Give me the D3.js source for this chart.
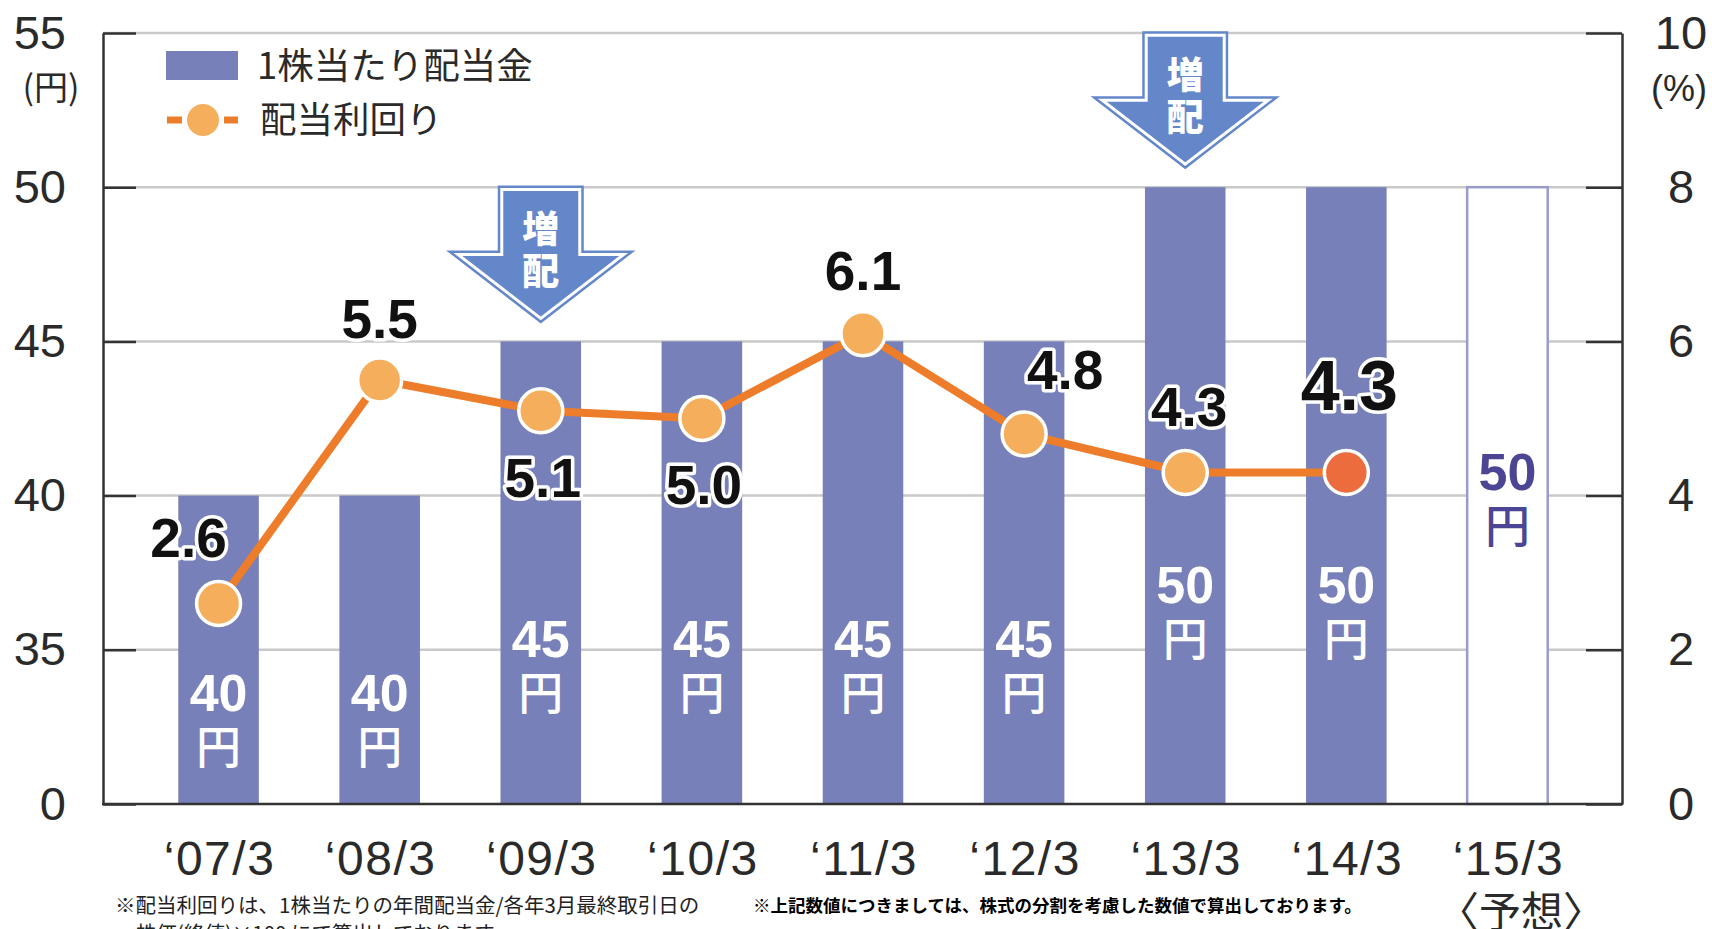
<!DOCTYPE html>
<html>
<head>
<meta charset="utf-8">
<script src="https://cdn.jsdelivr.net/npm/d3@7"></script>
<style>
  body { margin: 0; background: #fff; }
  svg { display: block; }
  text { font-family: "Liberation Sans", Arial, sans-serif; }
  .jp { font-family: "Noto Sans CJK JP", sans-serif; }
</style>
</head>
<body>
<div id="chart"></div>
<script>
// data
var years = ['‘07/3', '‘08/3', '‘09/3', '‘10/3', '‘11/3', '‘12/3', '‘13/3', '‘14/3', '‘15/3'];
var dividend = [40, 40, 45, 45, 45, 45, 50, 50, 50];      // 円
var yieldPct = [2.6, 5.5, 5.1, 5.0, 6.1, 4.8, 4.3, 4.3];  // %
var forecastYear = '‘15/3';
var leftTicks = [0, 35, 40, 45, 50, 55];
var rightTicks = [0, 2, 4, 6, 8, 10];

// label placement around each yield point (dx, dy)
var yieldLabelOffset = [[-30, -66], [0, -62], [2, 66], [2, 66], [0, -63], [41, -65], [4, -66], [3, -88]];

var width = 1712, height = 929;
var plot = {left: 103, right: 1622, top: 33, bottom: 804};
var step = (plot.bottom - plot.top) / 5;

var barColour = '#7780b8',
    lineColour = '#ee7d2b',
    dotColour = '#f5ae5c',
    lastDotColour = '#ec6c3e',
    arrowColour = '#6487ca';

var svg = d3.select('#chart').append('svg')
    .attr('width', width)
    .attr('height', height);

var xScale = d3.scaleBand().domain(years).range([138, 1588]).paddingInner(0.5).paddingOuter(0.25),
    yLeft = d3.scaleLinear().domain([0, 35, 55]).range([plot.bottom, plot.bottom - step, plot.top]),
    yRight = d3.scaleLinear().domain([0, 10]).range([plot.bottom, plot.top]),
    labelY = d3.scaleLinear().domain([40, 50]).range([692, 584]);

var bw = xScale.bandwidth();
function cx(d) { return xScale(d) + bw / 2; }

// gridlines
svg.append('g').selectAll('line')
    .data(leftTicks.slice(1))
  .enter().append('line')
    .attr('x1', plot.left).attr('x2', plot.right)
    .attr('y1', function(d) { return yLeft(d); })
    .attr('y2', function(d) { return yLeft(d); })
    .style('stroke', '#c9c9c9')
    .style('stroke-width', 2.5);

// bars
var rows = years.map(function(y, i) { return {year: y, value: dividend[i], forecast: y === forecastYear}; });

svg.append('g').selectAll('rect')
    .data(rows)
  .enter().append('rect')
    .attr('x', function(d) { return xScale(d.year); })
    .attr('y', function(d) { return yLeft(d.value); })
    .attr('width', bw)
    .attr('height', function(d) { return plot.bottom - yLeft(d.value); })
    .style('fill', function(d) { return d.forecast ? '#fff' : barColour; })
    .style('stroke', function(d) { return d.forecast ? '#989ccb' : 'none'; })
    .style('stroke-width', 2.5);

// axes
var leftAxis = svg.append('g')
    .attr('transform', 'translate(' + plot.left + ',0)')
    .call(d3.axisLeft(yLeft).tickValues(leftTicks).tickSizeInner(-33).tickSizeOuter(0).tickPadding(37));

var rightAxis = svg.append('g')
    .attr('transform', 'translate(' + plot.right + ',0)')
    .call(d3.axisRight(yRight).tickValues(rightTicks).tickSizeInner(-36).tickSizeOuter(0).tickPadding(59));

[leftAxis, rightAxis].forEach(function(ax) {
  ax.selectAll('path, line').style('stroke', '#333').style('stroke-width', 2.5);
  ax.selectAll('text')
      .style('font-size', '47px')
      .style('fill', '#2a2a2a')
      .style('font-family', '"Liberation Sans", Arial, sans-serif');
});
rightAxis.selectAll('text').style('text-anchor', 'middle');

svg.append('line')
    .attr('x1', plot.left - 1).attr('x2', plot.right + 1)
    .attr('y1', plot.bottom).attr('y2', plot.bottom)
    .style('stroke', '#333')
    .style('stroke-width', 2.5);

var xAxis = svg.append('g')
    .attr('transform', 'translate(0,' + plot.bottom + ')')
    .call(d3.axisBottom(xScale).tickSize(0).tickPadding(37));
xAxis.select('.domain').remove();
xAxis.selectAll('text')
    .attr('dx', 1)
    .style('font-size', '48px')
    .style('fill', '#2a2a2a')
    .style('letter-spacing', '1.5px')
    .style('font-family', '"Liberation Sans", Arial, sans-serif');

// unit labels
svg.append('text').attr('class', 'jp')
    .attr('x', 51).attr('y', 88).attr('dy', '0.35em')
    .style('text-anchor', 'middle').style('font-size', '34px').style('fill', '#2a2a2a')
    .text('(円)');
svg.append('text')
    .attr('x', 1679).attr('y', 88).attr('dy', '0.35em')
    .style('text-anchor', 'middle').style('font-size', '36px').style('fill', '#2a2a2a')
    .text('(%)');

// value labels in bars
var barLabels = svg.append('g').selectAll('g')
    .data(rows)
  .enter().append('g')
    .attr('transform', function(d) {
      var y = d.forecast ? 471 : labelY(d.value);
      return 'translate(' + cx(d.year) + ',' + y + ')';
    })
    .style('fill', function(d) { return d.forecast ? '#4b4594' : '#fff'; });

barLabels.append('text')
    .attr('dy', '0.36em')
    .style('text-anchor', 'middle')
    .style('font-size', '52px')
    .style('font-weight', 'bold')
    .text(function(d) { return d.value; });

barLabels.append('text').attr('class', 'jp')
    .attr('y', 56).attr('dy', '0.36em')
    .style('text-anchor', 'middle')
    .style('font-size', '45px')
    .style('font-weight', 500)
    .text('円');

// yield line
var points = yieldPct.map(function(v, i) { return {year: years[i], value: v, i: i}; });
var last = points.length - 1;

svg.append('path')
    .datum(points)
    .attr('d', d3.line().x(function(d) { return cx(d.year); }).y(function(d) { return yRight(d.value); }))
    .style('fill', 'none')
    .style('stroke', lineColour)
    .style('stroke-width', 8);

svg.append('g').selectAll('circle')
    .data(points)
  .enter().append('circle')
    .attr('cx', function(d) { return cx(d.year); })
    .attr('cy', function(d) { return yRight(d.value); })
    .attr('r', 22)
    .style('fill', function(d) { return d.i === last ? lastDotColour : dotColour; })
    .style('stroke', '#fff')
    .style('stroke-width', 3.5);

svg.append('g').selectAll('text')
    .data(points)
  .enter().append('text')
    .attr('x', function(d) { return cx(d.year) + yieldLabelOffset[d.i][0]; })
    .attr('y', function(d) { return yRight(d.value) + yieldLabelOffset[d.i][1]; })
    .attr('dy', '0.36em')
    .style('text-anchor', 'middle')
    .style('font-size', function(d) { return d.i === last ? '70px' : '55px'; })
    .style('font-weight', 'bold')
    .style('fill', '#111')
    .style('stroke', '#fff')
    .style('stroke-width', 7)
    .style('stroke-linejoin', 'round')
    .style('paint-order', 'stroke')
    .text(function(d) { return d.value.toFixed(1); });

// 増配 arrows where the dividend went up
var raises = rows.filter(function(d, i) { return i > 0 && d.value > dividend[i - 1]; });
var arrowShape = [[-39, -131], [39, -131], [39, -66], [83, -66], [0, -2], [-83, -66], [-39, -66]];

var arrows = svg.append('g').selectAll('g')
    .data(raises)
  .enter().append('g')
    .attr('transform', function(d) { return 'translate(' + cx(d.year) + ',' + (yLeft(d.value) - 21) + ')'; });

arrows.append('path')
    .attr('d', d3.line()(arrowShape) + 'Z')
    .style('fill', arrowColour)
    .style('stroke', arrowColour)
    .style('stroke-width', 8)
    .style('stroke-linejoin', 'miter');
arrows.append('path')
    .attr('d', d3.line()(arrowShape) + 'Z')
    .style('fill', 'none')
    .style('stroke', '#fff')
    .style('stroke-width', 3);

arrows.selectAll('text')
    .data(['増', '配'])
  .enter().append('text').attr('class', 'jp')
    .attr('y', function(d, i) { return -91 + i * 42; })
    .attr('dy', '0.36em')
    .style('text-anchor', 'middle')
    .style('font-size', '37px')
    .style('font-weight', 900)
    .style('fill', '#fff')
    .text(function(d) { return d; });

// legend
var legend = svg.append('g');
legend.append('rect')
    .attr('x', 166).attr('y', 51).attr('width', 72).attr('height', 29)
    .style('fill', barColour);
legend.append('text').attr('class', 'jp')
    .attr('x', 257).attr('y', 66).attr('dy', '0.36em')
    .style('font-size', '36.5px').style('fill', '#2a2a2a')
    .text('1株当たり配当金');
legend.selectAll('.dash')
    .data([[167, 182], [224, 238]])
  .enter().append('line')
    .attr('x1', function(d) { return d[0]; }).attr('x2', function(d) { return d[1]; })
    .attr('y1', 120).attr('y2', 120)
    .style('stroke', lineColour).style('stroke-width', 7);
legend.append('circle')
    .attr('cx', 203).attr('cy', 120).attr('r', 16)
    .style('fill', dotColour);
legend.append('text').attr('class', 'jp')
    .attr('x', 260).attr('y', 120).attr('dy', '0.36em')
    .style('font-size', '36.5px').style('fill', '#2a2a2a')
    .text('配当利回り');

// notes
svg.append('text').attr('class', 'jp')
    .attr('x', 1521).attr('y', 912).attr('dy', '0.36em')
    .style('text-anchor', 'middle').style('font-size', '42px').style('fill', '#2a2a2a')
    .text('〈予想〉');

svg.append('text').attr('class', 'jp')
    .attr('x', 115).attr('y', 906).attr('dy', '0.36em')
    .style('font-size', '20.5px').style('fill', '#222')
    .text('※配当利回りは、1株当たりの年間配当金/各年3月最終取引日の');
svg.append('text').attr('class', 'jp')
    .attr('x', 136).attr('y', 934).attr('dy', '0.36em')
    .style('font-size', '20.5px').style('fill', '#222')
    .text('株価(終値)×100 にて算出しております。');
svg.append('text').attr('class', 'jp')
    .attr('x', 753).attr('y', 906).attr('dy', '0.36em')
    .style('font-size', '17.5px').style('font-weight', 'bold').style('fill', '#000')
    .text('※上記数値につきましては、株式の分割を考慮した数値で算出しております。');
</script>
</body>
</html>
